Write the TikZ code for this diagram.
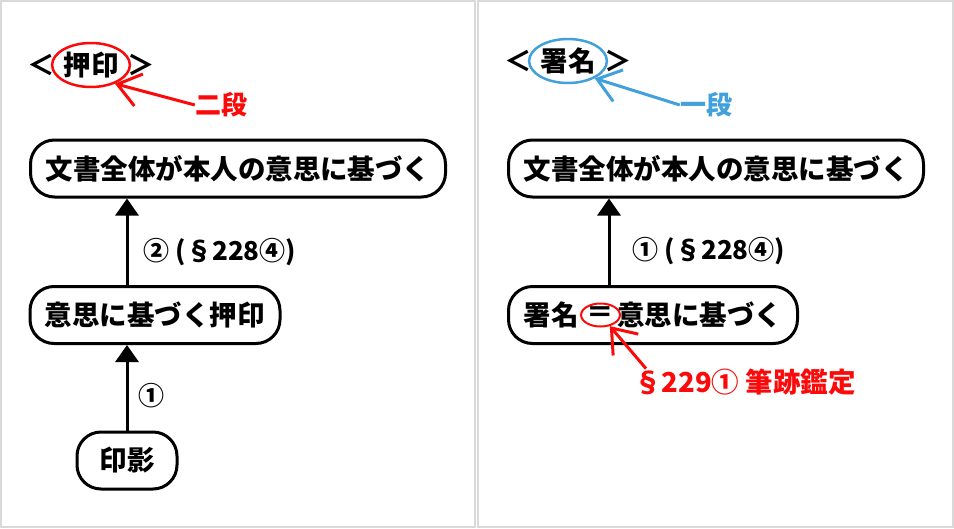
\documentclass[tikz,border=0pt]{standalone}
\usepackage{fontspec}
\newfontfamily\jp{Noto Sans CJK JP}
\usepackage{tikz}
\usetikzlibrary{arrows.meta,positioning,shapes.geometric}
\definecolor{markred}{RGB}{250,10,10}
\definecolor{markblue}{RGB}{66,160,220}
\newcommand{\BoxFont}{\jp\bfseries\fontsize{27.5}{30}\selectfont}
\newcommand{\NoteFont}{\jp\bfseries\fontsize{26}{28}\selectfont}

\begin{document}
\begin{tikzpicture}[x=1pt,y=-1pt
        ,panel/.style = {draw=black!15,line width=1.5pt}
        ,box/.style = {draw=black,line width=3pt,rounded corners=24pt,minimum height=57pt,inner xsep=15pt,inner ysep=0pt,font=\BoxFont}
        ,note/.style = {inner sep=0pt,font=\NoteFont}
        ,ring/.style = {ellipse,draw=#1,line width=2.5pt,minimum width=72pt,minimum height=44pt,inner sep=0pt,font=\BoxFont}
        ,bracket/.style = {inner sep=0pt,font=\BoxFont}
        ,uparrow/.style = {line width=3pt,-{Triangle[length=17pt,width=23pt]}}
        ,pointer/.style = {line width=3pt,-{Straight Barb[length=22pt,width=33pt]}}
      ]
      \useasboundingbox (0,0) rectangle (954,528);
      \draw[panel] (1,1) rectangle (475,527);
      \draw[panel] (478,1) rectangle (953,527);

      % left panel
      \node[ring=markred](oin) at (91,65) {押印};
      \node[bracket](oinL) [left=-4pt of oin] {＜};
      \node[bracket](oinR) [right=-4pt of oin] {＞};
      \node[note,text=markred](nidan) at (221,105) {二段};
      \draw[pointer,markred] (nidan.west) -- (oin.-38);

      \node[box](whole) at (238,168.5) {文書全体が本人の意思に基づく};
      \node[box](will) at (155,315) {意思に基づく押印};
      \node[box,minimum width=100pt](imp) at (127,460.5) {印影};
      \node[note](stepB) at (220,252) {② (§228④)};
      \node[note](stepA) at (151,396) {①};

      \draw[uparrow] (imp) -- (imp |- will.south);
      \draw[uparrow] (imp |- will.north) -- (imp |- whole.south);

      % right panel
      \node[ring=markblue](sho) at (568,61) {署名};
      \node[bracket](shoL) [left=-4pt of sho] {＜};
      \node[bracket](shoR) [right=-4pt of sho] {＞};
      \node[note,text=markblue](ichidan) at (706,105) {一段};
      \draw[pointer,markblue] (ichidan.west) -- (sho.-33);

      \node[box](whole2) at (716,168.5) {文書全体が本人の意思に基づく};
      \node[box](sig) at (653,315) {署名\hspace{39pt}意思に基づく};
      \node[ellipse,draw=markred,line width=2pt,minimum width=34pt,minimum height=23pt,inner sep=0pt,font=\BoxFont](eq) at (600.5,315) {＝};
      \node[note](stepR) at (709,251) {① (§228④)};
      \node[note,text=markred,font=\BoxFont](hand) at (745,382) {§229① 筆跡鑑定};

      \draw[uparrow] ([xshift=-44pt]sig.north) -- ([xshift=-44pt]sig.north |- whole2.south);
      \draw[pointer,markred] ([xshift=12pt]hand.north west) -- (eq.-50);
    \end{tikzpicture}
\end{document}
